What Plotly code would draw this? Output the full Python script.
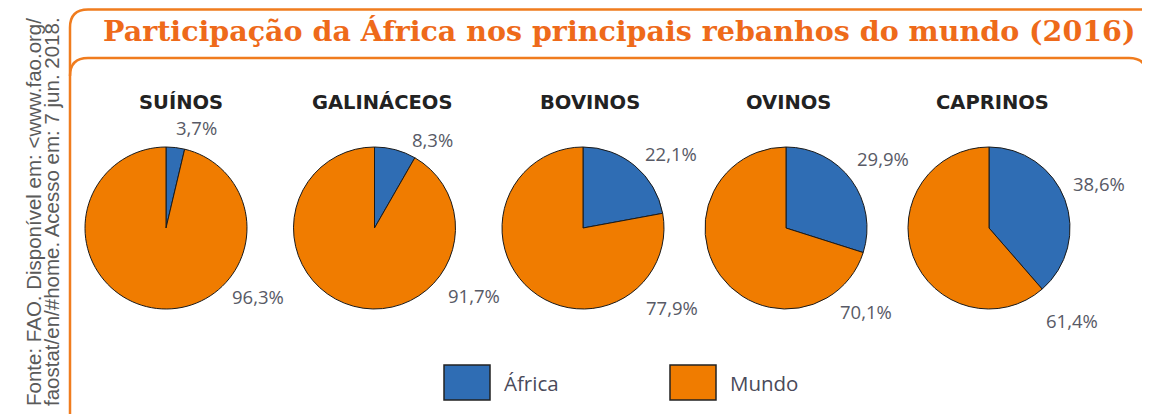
import plotly.graph_objects as go

W, H = 1150, 414

# ---- data ----
categories = ["SUÍNOS", "GALINÁCEOS", "BOVINOS", "OVINOS", "CAPRINOS"]
africa = [3.7, 8.3, 22.1, 29.9, 38.6]
mundo = [96.3, 91.7, 77.9, 70.1, 61.4]
series_names = ["África", "Mundo"]
colors = ["#2F6DB4", "#F07C00"]

title_text = "Participação da África nos principais rebanhos do mundo (2016)"
source_lines = ["Fonte: FAO. Disponível em: &lt;www.fao.org/",
                "faostat/en/#home. Acesso em: 7 jun. 2018."]

# ---- layout geometry (page pixels) ----
OFF = 8  # page body margin of the html page
centers_x = [166, 374.5, 583, 786, 989]
title_dx = [15, 7.5, 7, 2, 3]
center_y = 228
radius = 81
# label offsets relative to pie centre (pixels)
africa_off = [(30, -100), (58, -89), (88, -75), (97, -70), (110, -45)]
mundo_off = [(92, 68), (99, 67), (89, 79), (80, 83), (83, 92)]


def px(x):
    return (x - OFF) / W


def py(y):
    return 1 - (y - OFF) / H


fig = go.Figure()
for i, cat in enumerate(categories):
    cx = centers_x[i]
    fig.add_trace(go.Pie(
        labels=series_names,
        values=[africa[i], mundo[i]],
        sort=False,
        direction="clockwise",
        rotation=0,
        textinfo="none",
        hoverinfo="label+percent",
        marker=dict(colors=colors, line=dict(color="#1a1a1a", width=1)),
        domain=dict(x=[px(cx - radius), px(cx + radius)],
                    y=[py(center_y + radius), py(center_y - radius)]),
        showlegend=False,
    ))

annotations = []
label_font = dict(family="Open Sans, Noto Sans, sans-serif", size=18.5, color="#585a66")
for i, cat in enumerate(categories):
    cx = centers_x[i]
    annotations.append(dict(
        x=px(cx + title_dx[i]), y=py(102), xref="paper", yref="paper", text=f"<b>{cat}</b>",
        showarrow=False, xanchor="center", yanchor="middle",
        font=dict(family="DejaVu Sans, sans-serif", size=19.5, color="#222222")))
    ax, ay = africa_off[i]
    annotations.append(dict(
        x=px(cx + ax), y=py(center_y + ay), xref="paper", yref="paper",
        text=f"{africa[i]:.1f}%".replace(".", ","), showarrow=False,
        xanchor="center", yanchor="middle", font=label_font))
    mx, my = mundo_off[i]
    annotations.append(dict(
        x=px(cx + mx), y=py(center_y + my), xref="paper", yref="paper",
        text=f"{mundo[i]:.1f}%".replace(".", ","), showarrow=False,
        xanchor="center", yanchor="middle", font=label_font))

# title
annotations.append(dict(
    x=px(619), y=py(31), xref="paper", yref="paper", text=f"<b>{title_text}</b>",
    showarrow=False, xanchor="center", yanchor="middle",
    font=dict(family="DejaVu Serif, serif", size=28.5, color="#EE6A1A")))

# source (rotated), one annotation per line
for lx, line in zip([33, 51], source_lines):
    annotations.append(dict(
        x=px(lx), y=py(212), xref="paper", yref="paper",
        text=line, showarrow=False, textangle=-90,
        xanchor="center", yanchor="middle", align="center",
        font=dict(family="Liberation Sans, Arial, sans-serif", size=20.5, color="#5a5a5a")))

# legend (manual)
legend_items = [(444, series_names[0], colors[0]), (670, series_names[1], colors[1])]
shapes = []
for lx, name, col in legend_items:
    shapes.append(dict(type="rect", xref="paper", yref="paper",
                       x0=px(lx), x1=px(lx + 46), y0=py(400), y1=py(365),
                       fillcolor=col, line=dict(color="#222222", width=1.5)))
    annotations.append(dict(
        x=px(lx + 58), y=py(383), xref="paper", yref="paper", text=name,
        showarrow=False, xanchor="left", yanchor="middle",
        font=dict(family="Open Sans, Noto Sans, sans-serif", size=20.5, color="#4a4a5a")))

orange = "#F07C1E"
# title box outline: left side with rounded top-left corner and top edge
r1 = 18
title_path = (f"M {px(70)},{py(430)} L {px(70)},{py(9.5 + r1)} "
              f"Q {px(70)},{py(9.5)} {px(70 + r1)},{py(9.5)} L {px(1160)},{py(9.5)}")
shapes.append(dict(type="path", xref="paper", yref="paper", path=title_path,
                   line=dict(color=orange, width=2.5)))
# main panel top edge with rounded corners
r2 = 18
panel_path = (f"M {px(70)},{py(58 + r2)} Q {px(70)},{py(58)} {px(70 + r2)},{py(58)} "
              f"L {px(1147 - r2)},{py(58)} Q {px(1147)},{py(58)} {px(1147)},{py(58 + r2)} "
              f"L {px(1147)},{py(130)}")
shapes.append(dict(type="path", xref="paper", yref="paper", path=panel_path,
                   line=dict(color=orange, width=2.5)))
# green side bar
shapes.append(dict(type="path", xref="paper", yref="paper",
                   path=(f"M {px(1143)},{py(430)} L {px(1143)},{py(133)} "
                         f"Q {px(1143)},{py(124)} {px(1152)},{py(123)} L {px(1152)},{py(430)} Z"),
                   fillcolor="#5DAE4B", line=dict(width=0)))

fig.update_layout(
    width=W, height=H,
    margin=dict(l=0, r=0, t=0, b=0),
    paper_bgcolor="white", plot_bgcolor="white",
    annotations=annotations, shapes=shapes,
)

fig.write_html("out.html")
